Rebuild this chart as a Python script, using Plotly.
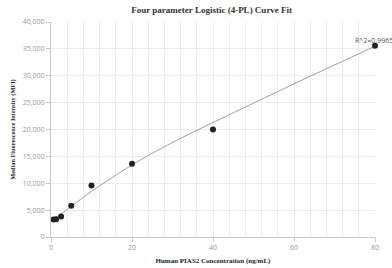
import plotly.graph_objects as go

conc = [0.625, 1.25, 2.5, 5, 10, 20, 40, 80]
mfi = [3250, 3300, 3800, 5800, 9600, 13650, 20000, 35600]

fit_x = [0.625, 1.25, 2.5, 5, 10, 15, 20, 30, 40, 50, 60, 70, 80]
fit_y = [3300, 3650, 4300, 5700, 8500, 11000, 13400, 17600, 21300, 24900, 28500, 32000, 35500]

x_ticks = [0, 20, 40, 60, 80]
y_ticks = [0, 5000, 10000, 15000, 20000, 25000, 30000, 35000, 40000]
r2_label = "R^2=0.9965"

fig = go.Figure()
fig.add_trace(go.Scatter(x=fit_x, y=fit_y, mode="lines", line=dict(color="#a0a0a0", width=1, shape="spline"),
                         hoverinfo="skip", showlegend=False, cliponaxis=False))
fig.add_trace(go.Scatter(x=conc, y=mfi, mode="markers", marker=dict(color="#222222", size=6),
                         showlegend=False, cliponaxis=False))
fig.add_annotation(x=conc[-1], y=mfi[-1], text=r2_label, showarrow=False, yshift=5, xshift=-1,
                   font=dict(family="Open Sans, sans-serif", size=7, color="#555555"))

fig.update_layout(
    width=392, height=268,
    margin=dict(l=51, r=17, t=22, b=31),
    paper_bgcolor="white", plot_bgcolor="white",
    title=dict(text="<b>Four parameter Logistic (4-PL) Curve Fit</b>", x=0.54, xanchor="center", y=0.975, yanchor="top",
               font=dict(family="Liberation Serif, serif", size=9, color="#333333")),
    xaxis=dict(range=[0, 80], tickvals=x_ticks, showgrid=True, gridcolor="#ebedf5", gridwidth=1,
               minor=dict(dtick=4, showgrid=True, gridcolor="#ebedf5", gridwidth=1),
               showline=True, linecolor="#c8c8c8", linewidth=1, ticks="outside", ticklen=4, tickcolor="#c8c8c8",
               tickfont=dict(family="Open Sans, sans-serif", size=7, color="#999999"), zeroline=False,
               automargin=False,
               title=dict(text="<b>Human PIAS2 Concentration (ng/mL)</b>", standoff=6,
                          font=dict(family="Liberation Serif, serif", size=7, color="#222222"))),
    yaxis=dict(range=[0, 40000], tickvals=y_ticks, tickformat=",", showgrid=True, gridcolor="#ebedf5", gridwidth=1,
               showline=True, linecolor="#c8c8c8", linewidth=1, ticks="outside", ticklen=4, tickcolor="#c8c8c8",
               tickfont=dict(family="Open Sans, sans-serif", size=7, color="#999999"), zeroline=False,
               automargin=False,
               title=dict(text="<b>Median Fluorescence Intensity (MFI)</b>", standoff=6,
                          font=dict(family="Liberation Serif, serif", size=6.3, color="#222222"))),
)
fig.write_html("out.html", post_script="document.body.style.margin='0';",
               config={"displayModeBar": False})
